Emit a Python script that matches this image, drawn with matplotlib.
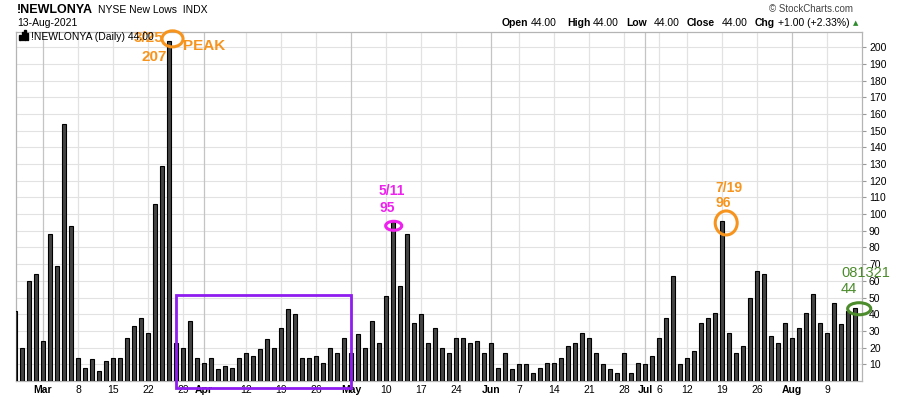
import matplotlib
matplotlib.use('Agg')
import matplotlib.pyplot as plt
import pandas as pd
from matplotlib.patches import Ellipse, Rectangle

plt.rcParams['font.family'] = ['Liberation Sans', 'DejaVu Sans']

# trading days shown (first bar is clipped by the left edge)
holidays = ['2021-04-02', '2021-05-31', '2021-07-05']
dates = pd.bdate_range('2021-02-23', '2021-08-13', freq='C', holidays=holidays)

new_lows = [
    42, 20, 60, 64,
    24, 88, 69, 154, 93,
    14, 8, 13, 6, 12,
    14, 14, 26, 33, 38,
    29, 106, 129, 204, 23,
    20, 36, 14, 11,
    14, 7, 9, 8, 14,
    17, 15, 19, 25, 20,
    32, 43, 40, 14, 14,
    15, 11, 20, 17, 26,
    17, 28, 20, 36, 23,
    51, 95, 57, 88, 35,
    40, 23, 32, 20, 17,
    26, 26, 23, 24, 17,
    23, 8, 17, 7,
    10, 10, 5, 8, 11,
    11, 14, 21, 23, 29,
    26, 17, 10, 7, 5,
    17, 5, 11, 10, 15,
    26, 38, 63, 10,
    14, 18, 35, 38, 41,
    96, 29, 17, 21, 50,
    66, 64, 27, 23, 35,
    26, 32, 41, 52, 35,
    29, 47, 34, 42, 44,
]

tick_dates = ['2021-03-01', '2021-03-08', '2021-03-15', '2021-03-22', '2021-03-29',
              '2021-04-01', '2021-04-12', '2021-04-19', '2021-04-26',
              '2021-05-03', '2021-05-10', '2021-05-17', '2021-05-24',
              '2021-06-01', '2021-06-07', '2021-06-14', '2021-06-21', '2021-06-28',
              '2021-07-01', '2021-07-06', '2021-07-12', '2021-07-19', '2021-07-26',
              '2021-08-02', '2021-08-09']
tick_labels = ['Mar', '8', '15', '22', '29',
               'Apr', '12', '19', '26',
               'May', '10', '17', '24',
               'Jun', '7', '14', '21', '28',
               'Jul', '6', '12', '19', '26',
               'Aug', '9']
month_labels = ['Mar', 'Apr', 'May', 'Jun', 'Jul', 'Aug']

ORANGE = '#f7941d'
MAGENTA = '#ee22ee'
PURPLE = '#8f1cf0'
GREEN = '#4c8c2c'


def idx(d):
    return dates.get_loc(pd.Timestamp(d))


def fx(x):
    return x / 900


def fy(y):
    return 1 - y / 396


fig = plt.figure(figsize=(9, 3.96), dpi=100)
ax = fig.add_axes([fx(16), fy(381), 846 / 900, 349.3 / 396])

x = list(range(len(new_lows)))
ax.bar(x, new_lows, width=0.68, color='#444444', edgecolor='black', linewidth=0.8, zorder=3)

ax.set_xlim(0.14, 121.0)
ax.set_ylim(0, 209.3)

# grid
for v in range(10, 210, 10):
    ax.axhline(v, color='#e2e2e2', lw=0.8, zorder=1)
tick_pos = [idx(d) for d in tick_dates]
for p, lab in zip(tick_pos, tick_labels):
    c = '#c4c4c4' if lab in month_labels else '#e2e2e2'
    ax.axvline(p, color=c, lw=0.9, zorder=1)

ax.set_xticks(tick_pos)
ax.set_xticklabels(tick_labels, fontsize=7.5)
for t in ax.get_xticklabels():
    if t.get_text() in month_labels:
        t.set_fontweight('bold')
ax.tick_params(axis='x', length=0, pad=3)

ax.yaxis.tick_right()
ax.set_yticks(range(10, 210, 10))
ax.tick_params(axis='y', length=3, width=0.8, color='#999999', labelsize=7.5, pad=2)

for s in ax.spines.values():
    s.set_color('#b4b4b4')
    s.set_linewidth(0.9)

# annotations
i = idx('2021-03-25')
ax.add_patch(Ellipse((i + 0.5, 205), 3.0, 9.6, fill=False, ec=ORANGE, lw=2.2,
                     clip_on=False, zorder=6))
ax.text(i - 5.0, 203, '3/25', color=ORANGE, fontsize=11, fontweight='bold', zorder=7)
ax.text(i - 3.9, 191.5, '207', color=ORANGE, fontsize=11, fontweight='bold', zorder=7)
ax.text(i + 2.0, 198.5, 'PEAK', color=ORANGE, fontsize=11, fontweight='bold', zorder=7)

i = idx('2021-05-11')
ax.add_patch(Ellipse((i + 0.1, new_lows[i] - 2), 2.3, 5.4, fill=False, ec=MAGENTA, lw=2.2,
                     clip_on=False, zorder=6))
ax.text(i - 2.0, new_lows[i] + 16.6, '5/11', color=MAGENTA, fontsize=10, fontweight='bold')
ax.text(i - 2.0, new_lows[i] + 6.4, '95', color=MAGENTA, fontsize=10, fontweight='bold')

i = idx('2021-07-19')
ax.add_patch(Ellipse((i + 0.6, new_lows[i] - 1.3), 3.14, 14.4, fill=False, ec=ORANGE, lw=2.2,
                     clip_on=False, zorder=6))
ax.text(i - 1.0, new_lows[i] + 17.5, '7/19', color=ORANGE, fontsize=10, fontweight='bold')
ax.text(i - 1.0, new_lows[i] + 8.4, '96', color=ORANGE, fontsize=10, fontweight='bold')

i = idx('2021-08-13')
ax.add_patch(Ellipse((i + 0.6, new_lows[i] - 0.7), 3.3, 7.2, fill=False, ec=GREEN, lw=2.2,
                     clip_on=False, zorder=6))
ax.text(i - 2.0, new_lows[i] + 18.5, '081321', color=GREEN, fontsize=10.5, clip_on=False,
        zorder=7)
ax.text(i - 2.0, new_lows[i] + 9, '44', color=GREEN, fontsize=10.5, clip_on=False, zorder=7)

# consolidation box
b0, b1 = idx('2021-03-26'), idx('2021-05-03')
ax.add_patch(Rectangle((b0 - 0.04, -4.2), b1 - b0 + 0.08, 55.5, fill=False, ec=PURPLE, lw=2.0,
                       clip_on=False, zorder=6))

# header
fig.text(fx(17), fy(10), '!NEWLONYA', fontsize=9, fontweight='bold', va='center')
fig.text(fx(98), fy(10), 'NYSE New Lows  INDX', fontsize=7.5, va='center')
fig.text(fx(17), fy(23), '13-Aug-2021', fontsize=7.5, va='center')
fig.text(fx(853), fy(9), '\u00a9 StockCharts.com', fontsize=7, color='#444444',
         ha='right', va='center')

for bx, bh in [(19, 5), (21.5, 8), (24, 10), (26.5, 7)]:
    fig.add_artist(Rectangle((fx(bx), fy(40)), 1.6 / 900, bh / 396, color='black',
                             transform=fig.transFigure))
fig.text(fx(31), fy(37), '!NEWLONYA (Daily) 44.00', fontsize=7.5, va='center', zorder=5)

quote = [('Open', 502, True), ('44.00', 531, False), ('High', 567, True), ('44.00', 593, False),
         ('Low', 626, True), ('44.00', 654, False), ('Close', 687, True), ('44.00', 722, False),
         ('Chg', 755, True), ('+1.00 (+2.33%)', 778, False)]
for s, px, bold in quote:
    fig.text(fx(px), fy(23), s, fontsize=7.5, fontweight='bold' if bold else 'normal',
             va='center')
fig.text(fx(856), fy(23), '\u25b2', fontsize=5, color='#2e8b2e', va='center', ha='center',
         family=['DejaVu Sans'])

fig.savefig('out.png', dpi=100)
